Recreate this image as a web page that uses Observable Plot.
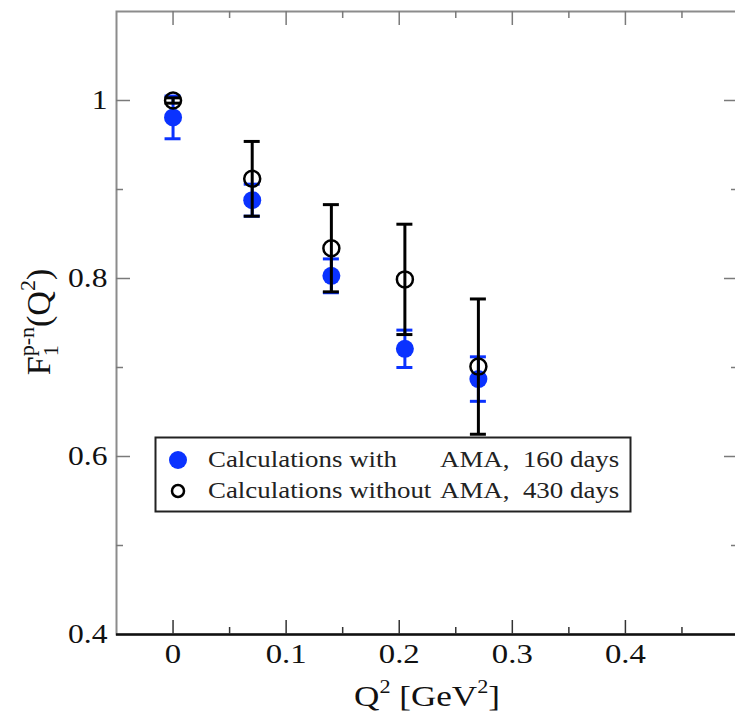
<!DOCTYPE html>
<html>
<head>
<meta charset="utf-8">
<script src="https://cdn.jsdelivr.net/npm/d3@7"></script>
<script src="https://cdn.jsdelivr.net/npm/@observablehq/plot@0.6"></script>
<style>
  html, body { margin: 0; padding: 0; background: #fff; }
  svg { display: block; }
</style>
</head>
<body>
<div id="chart"></div>
<script>
// Isovector Dirac form factor F1^{p-n}(Q^2), two lattice runs
const q2 = [0, 0.07, 0.14, 0.205, 0.27];
const f1Ama = [0.981, 0.888, 0.803, 0.721, 0.687];
const errAma = [0.024, 0.018, 0.019, 0.021, 0.025];
const f1NoAma = [1.0, 0.912, 0.834, 0.799, 0.701];
const errNoAma = [0.003, 0.042, 0.049, 0.062, 0.076];

const seriesNames = [
  ["Calculations with", "AMA,  160 days"],
  ["Calculations without", "AMA,  430 days"]
];

const xMajor = [0, 0.1, 0.2, 0.3, 0.4];
const xMajorLabels = ["0", "0.1", "0.2", "0.3", "0.4"];
const xMinor = [0.05, 0.15, 0.25, 0.35, 0.45];
const yMajor = [0.4, 0.6, 0.8, 1.0];
const yMajorLabels = ["0.4", "0.6", "0.8", "1"];
const yInnerMajor = [0.6, 0.8, 1.0];
const yMinor = [0.5, 0.7, 0.9];

const xDomain = [-0.05, 0.5];
const yDomain = [0.4, 1.1];

const BLUE = "#0a32ff";
const FONT = "'Liberation Serif', 'Times New Roman', serif";
const STRETCH = 1.17; // glyphs in this figure are drawn a little wide

const rows = (ys, es) => q2.map((x, i) => ({x, y: ys[i], lo: ys[i] - es[i], hi: ys[i] + es[i]}));
const ama = rows(f1Ama, errAma);
const noAma = rows(f1NoAma, errNoAma);

const xLabel = new Map(xMajor.map((v, i) => [v, xMajorLabels[i]]));
const yLabel = new Map(yMajor.map((v, i) => [v, yMajorLabels[i]]));

const [X0, X1] = xDomain;
const [Y0, Y1] = yDomain;
const MAJ = 14, MIN = 7;
const tickGray = "#7a7a7a";

function errorBars(data, color) {
  return [
    Plot.ruleX(data, {x: "x", y1: "lo", y2: "hi", stroke: color, strokeWidth: 3}),
    Plot.ruleY(data, {y: "lo", x1: "x", x2: "x", insetLeft: -8, insetRight: -8, stroke: color, strokeWidth: 3}),
    Plot.ruleY(data, {y: "hi", x1: "x", x2: "x", insetLeft: -8, insetRight: -8, stroke: color, strokeWidth: 3})
  ];
}

const plot = Plot.plot({
  width: 735,
  height: 714,
  marginLeft: 116,
  marginRight: -3,
  marginTop: 11,
  marginBottom: 80,
  x: {domain: xDomain},
  y: {domain: yDomain},
  style: {fontFamily: FONT, background: "#fff", color: "#111"},
  marks: [
    Plot.frame({stroke: "#8c8c8c", strokeWidth: 2}),
    Plot.ruleY([Y0], {stroke: "#111", strokeWidth: 2.5}),

    // inward ticks, bottom
    Plot.ruleX(xMajor, {x: d => d, y1: Y0, y2: Y0, insetTop: -MAJ, stroke: "#333", strokeWidth: 1.5}),
    Plot.ruleX(xMinor, {x: d => d, y1: Y0, y2: Y0, insetTop: -MIN, stroke: "#333", strokeWidth: 1.5}),
    // top
    Plot.ruleX(xMajor, {x: d => d, y1: Y1, y2: Y1, insetBottom: -MAJ, stroke: tickGray, strokeWidth: 1.5}),
    Plot.ruleX(xMinor, {x: d => d, y1: Y1, y2: Y1, insetBottom: -MIN, stroke: tickGray, strokeWidth: 1.5}),
    // left
    Plot.ruleY(yInnerMajor, {y: d => d, x1: X0, x2: X0, insetRight: -MAJ, stroke: tickGray, strokeWidth: 1.5}),
    Plot.ruleY(yMinor, {y: d => d, x1: X0, x2: X0, insetRight: -MIN, stroke: tickGray, strokeWidth: 1.5}),
    // right
    Plot.ruleY(yInnerMajor, {y: d => d, x1: X1, x2: X1, insetLeft: -MAJ, stroke: tickGray, strokeWidth: 1.5}),
    Plot.ruleY(yMinor, {y: d => d, x1: X1, x2: X1, insetLeft: -MIN, stroke: tickGray, strokeWidth: 1.5}),

    Plot.axisX(xMajor, {tickSize: 0, tickPadding: 9, fontSize: 28, label: null, tickFormat: d => xLabel.get(d)}),
    Plot.axisY(yMajor, {tickSize: 0, tickPadding: 9, fontSize: 27, label: null, tickFormat: d => yLabel.get(d)}),

    // with AMA
    ...errorBars(ama, BLUE),
    Plot.dot(ama, {x: "x", y: "y", r: 9, fill: BLUE}),
    // without AMA
    ...errorBars(noAma, "#000"),
    Plot.dot(noAma, {x: "x", y: "y", r: 8, fill: "none", stroke: "#000", strokeWidth: 2.5})
  ]
});

const svg = d3.select(plot);

// widen tick label glyphs about their anchor
svg.selectAll("g[aria-label$='tick label'] text").each(function () {
  const t = this.getAttribute("transform") || "";
  this.setAttribute("transform", `${t} scale(${STRETCH},1)`);
});

// legend
const lg = svg.append("g").attr("font-family", FONT).attr("font-size", 23)
  .attr("fill", "#222").attr("text-anchor", "start");
lg.append("rect").attr("x", 155.5).attr("y", 437.5).attr("width", 475).attr("height", 74)
  .attr("fill", "#fff").attr("stroke", "#222").attr("stroke-width", 2);
lg.append("circle").attr("cx", 178).attr("cy", 460).attr("r", 9).attr("fill", BLUE);
lg.append("circle").attr("cx", 178).attr("cy", 491).attr("r", 6).attr("fill", "none").attr("stroke", "#000").attr("stroke-width", 2.5);
seriesNames.forEach((parts, i) => {
  const y = 467 + i * 31;
  [[208, parts[0]], [440, parts[1]]].forEach(([x, s]) => {
    lg.append("text").attr("text-anchor", "start")
      .attr("transform", `translate(${x},${y}) scale(${STRETCH},1)`)
      .style("white-space", "pre").text(s);
  });
});

// axis titles
const xt = svg.append("text").attr("font-family", FONT).attr("font-size", 30).attr("fill", "#111")
  .attr("text-anchor", "middle").attr("transform", `translate(427,706) scale(${STRETCH},1)`);
xt.append("tspan").text("Q");
xt.append("tspan").attr("font-size", 19).attr("dy", -13).text("2");
xt.append("tspan").attr("dy", 13).style("white-space", "pre").text(" [GeV");
xt.append("tspan").attr("font-size", 19).attr("dy", -13).text("2");
xt.append("tspan").attr("dy", 13).text("]");

const yt = svg.append("text").attr("font-family", FONT).attr("font-size", 34).attr("fill", "#111")
  .attr("text-anchor", "middle").attr("transform", `translate(50,322) rotate(-90)`);
yt.append("tspan").text("F");
yt.append("tspan").attr("font-size", 22).attr("dy", 8).text("1");
yt.append("tspan").attr("font-size", 22).attr("dx", -11).attr("dy", -24).text("p-n");
yt.append("tspan").attr("dy", 16).text("(Q");
yt.append("tspan").attr("font-size", 22).attr("dy", -15).text("2");
yt.append("tspan").attr("dy", 15).text(")");

document.getElementById("chart").appendChild(plot);
</script>
</body>
</html>
